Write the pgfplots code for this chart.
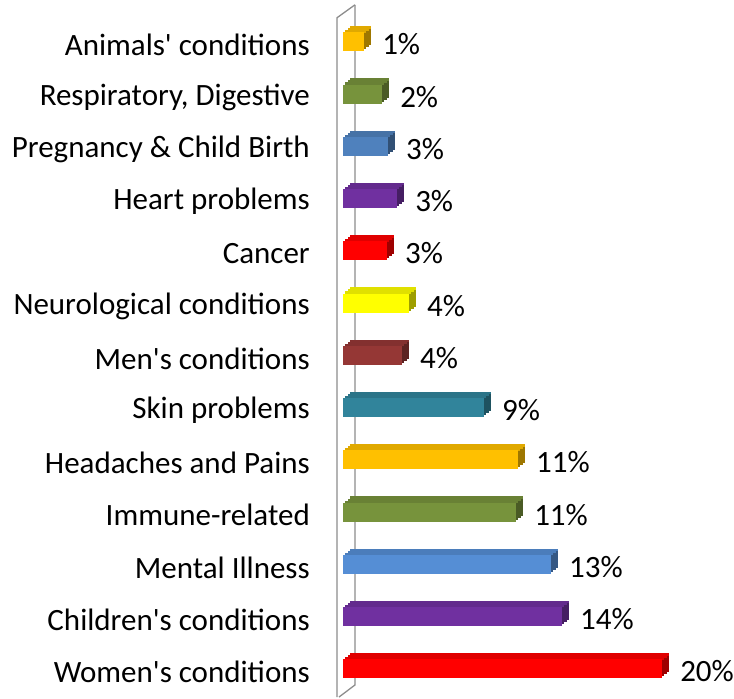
\documentclass[border=0pt]{standalone}
\usepackage{pgfplots}
\pgfplotsset{compat=1.18}
\usepackage{fontspec}
\setmainfont{Carlito}

\definecolor{cGold}{HTML}{FFC000}
\definecolor{cOlive}{HTML}{77933C}
\definecolor{cBlue}{HTML}{4F81BD}
\definecolor{cPurple}{HTML}{7030A0}
\definecolor{cRed}{HTML}{FF0000}
\definecolor{cYellow}{HTML}{FFFF00}
\definecolor{cMaroon}{HTML}{953735}
\definecolor{cTeal}{HTML}{31849B}
\definecolor{cSky}{HTML}{558ED5}
\definecolor{cWall}{HTML}{8C8C8C}

\newcommand\lblfont{\fontsize{31}{37}\selectfont}

% #1 category position, #2 value, #3 colour, #4 label
\newcommand\cbar[4]{%
  \addplot[xbar, bar width=19pt, bar shift=0pt, fill=#3!62!black, draw=none, xshift=2.33pt, yshift=2pt, forget plot] coordinates {(#2,#1)};
  \addplot[xbar, bar width=19pt, bar shift=0pt, fill=#3!62!black, draw=none, xshift=4.67pt, yshift=4pt, forget plot] coordinates {(#2,#1)};
  \addplot[xbar, bar width=19pt, bar shift=0pt, fill=#3!62!black, draw=none, xshift=7pt, yshift=6pt, forget plot] coordinates {(#2,#1)};
  \addplot[xbar, bar width=2.4pt, bar shift=0pt, fill=#3!88!black, draw=none, xshift=2.33pt, yshift=10.5pt, forget plot] coordinates {(#2,#1)};
  \addplot[xbar, bar width=2.4pt, bar shift=0pt, fill=#3!88!black, draw=none, xshift=4.67pt, yshift=12.5pt, forget plot] coordinates {(#2,#1)};
  \addplot[xbar, bar width=2.4pt, bar shift=0pt, fill=#3!88!black, draw=none, xshift=7pt, yshift=14.5pt, forget plot] coordinates {(#2,#1)};
  \addplot[xbar, bar width=19pt, bar shift=0pt, fill=#3, draw=none, forget plot,
    nodes near coords, point meta=explicit symbolic,
    nodes near coords style={anchor=west, inner sep=0pt, xshift=18pt, yshift=-2.5pt, font=\lblfont, text=black}]
    coordinates {(#2,#1) [#4]};
}

\begin{document}
\begin{tikzpicture}
\begin{axis}[
  name=ax,
  scale only axis,
  width=391pt, height=699pt,
  xmin=0, xmax=24.51,
  ymin=-0.574, ymax=12.80,
  clip=false,
  axis line style={draw=none},
  xtick=\empty,
  ytick={0,1,2,3,4,5,6,7,8,9,10,11,12},
  yticklabels={Women\textquotesingle s conditions, Children\textquotesingle s conditions, Mental Illness, Immune-related, Headaches and Pains, Skin problems, Men\textquotesingle s conditions, Neurological conditions, Cancer, Heart problems, Pregnancy \& Child Birth, {Respiratory, Digestive}, Animals\textquotesingle\ conditions},
  major tick length=0pt,
  tick style={draw=none},
  yticklabel style={anchor=east, inner sep=0pt, xshift=-33pt, yshift=-3pt, font=\lblfont, text=black},
]
% side wall
\addplot[no marks, color=cWall, line width=1.3pt, forget plot] coordinates {(-0.376,-0.536) (-0.376,12.460) (0.752,12.708)};
\addplot[no marks, color=cWall, line width=1.3pt, forget plot] coordinates {(0.752,12.708) (0.752,-0.306) (-0.25,-0.536)};

\cbar{0}{20.0}{cRed}{20\%}
\cbar{1}{13.73}{cPurple}{14\%}
\cbar{2}{13.04}{cSky}{13\%}
\cbar{3}{10.85}{cOlive}{11\%}
\cbar{4}{10.97}{cGold}{11\%}
\cbar{5}{8.84}{cTeal}{9\%}
\cbar{6}{3.70}{cMaroon}{4\%}
\cbar{7}{4.14}{cYellow}{4\%}
\cbar{8}{2.76}{cRed}{3\%}
\cbar{9}{3.39}{cPurple}{3\%}
\cbar{10}{2.82}{cBlue}{3\%}
\cbar{11}{2.45}{cOlive}{2\%}
\cbar{12}{1.32}{cGold}{1\%}
\end{axis}
\pgfresetboundingbox
\path[use as bounding box] ([xshift=-343pt]ax.south west) rectangle (ax.north east);
\end{tikzpicture}
\end{document}
